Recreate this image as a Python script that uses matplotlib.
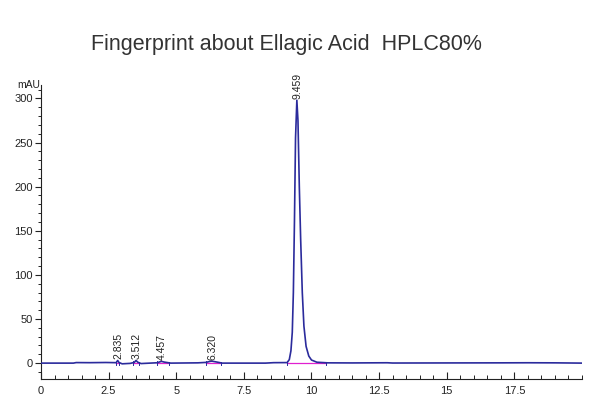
import numpy as np
import matplotlib.pyplot as plt
from matplotlib.ticker import MultipleLocator

plt.rcParams['font.family'] = ['Liberation Sans', 'DejaVu Sans']

# chromatogram (time in min, signal in mAU)
t = [0.0, 1.2, 1.3, 1.8, 2.4, 2.78, 2.835, 2.88, 3.0, 3.3, 3.45, 3.512, 3.58,
     3.7, 4.3, 4.40, 4.457, 4.55, 4.8, 5.8, 6.1, 6.25, 6.32, 6.45, 6.7,
     8.3, 8.6, 9.10, 9.18, 9.24, 9.29, 9.33, 9.37, 9.41, 9.459, 9.50, 9.55,
     9.60, 9.66, 9.72, 9.80, 9.90, 10.0, 10.2, 10.6, 11.5, 12.8, 13.0, 17.0,
     18.0, 19.0, 20.0]
mau = [0.0, 0.0, 0.6, 0.5, 0.7, 0.5, 3.0, 0.8, -0.8, -0.3, 0.8, 3.0, 1.0,
       -0.5, 0.4, 1.5, 2.0, 1.2, 0.0, 0.3, 0.8, 2.0, 2.2, 1.5, 0.0,
       0.0, 0.5, 0.6, 4.0, 14.0, 35.0, 80.0, 160.0, 255.0, 298.0, 275.0, 200.0,
       140.0, 80.0, 42.0, 19.0, 8.0, 3.5, 1.0, 0.3, 0.2, 0.4, 0.1, 0.3,
       0.4, 0.3, 0.0]

# integrated peaks: retention time, height, baseline start/end
rt = [2.835, 3.512, 4.457, 6.320, 9.459]
height = [3.0, 3.0, 2.0, 2.2, 298.0]
b_start = [2.78, 3.40, 4.30, 6.10, 9.10]
b_end = [2.90, 3.62, 4.75, 6.65, 10.55]

fig = plt.figure(figsize=(6, 4.07), dpi=100)
ax = fig.add_axes([0.0683, 0.0688, 0.9017, 0.722])

ax.plot(t, mau, color='#2b2b9c', lw=1.2, zorder=3)
for s, e in zip(b_start, b_end):
    ax.plot([s, e], [0.2, 0.2], color='#e020d0', lw=0.9, zorder=2)
    ax.plot([s, s], [-2, 2.5], color='#2b2b9c', lw=0.7, zorder=2)
    ax.plot([e, e], [-2.5, 1.5], color='#2b2b9c', lw=0.7, zorder=2)

for r, h in zip(rt, height):
    ax.text(r + 0.02, h + 1.5, f'{r:.3f}', rotation=90, ha='center', va='bottom',
            fontsize=7.5, color='#222222', clip_on=False)

ax.set_xlim(0, 20)
ax.set_ylim(-18, 315)
ax.xaxis.set_minor_locator(MultipleLocator(0.5))
ax.yaxis.set_major_locator(MultipleLocator(50))
ax.yaxis.set_minor_locator(MultipleLocator(10))
ax.set_xticks(np.arange(0, 17.6, 2.5))
ax.set_xticklabels(['0', '2.5', '5', '7.5', '10', '12.5', '15', '17.5'])
ax.tick_params(axis='x', which='major', direction='in', length=5, width=0.8,
               labelsize=8, pad=5, colors='#222222')
ax.tick_params(axis='x', which='minor', direction='in', length=3, width=0.6)
ax.tick_params(axis='y', which='major', direction='out', length=4, width=0.8,
               labelsize=8, pad=2, colors='#222222')
ax.tick_params(axis='y', which='minor', direction='out', length=2, width=0.6)

for side in ['top', 'right']:
    ax.spines[side].set_visible(False)
for side in ['left', 'bottom']:
    ax.spines[side].set_linewidth(0.8)
    ax.spines[side].set_color('#222222')

ax.text(-0.002, 1.0, 'mAU', transform=ax.transAxes, ha='right', va='center',
        fontsize=7.5, color='#222222')

fig.text(0.477, 0.89, 'Fingerprint about Ellagic Acid  HPLC80%', ha='center',
         va='center', fontsize=15.5, color='#333333')

fig.savefig('out.png', dpi=100)
